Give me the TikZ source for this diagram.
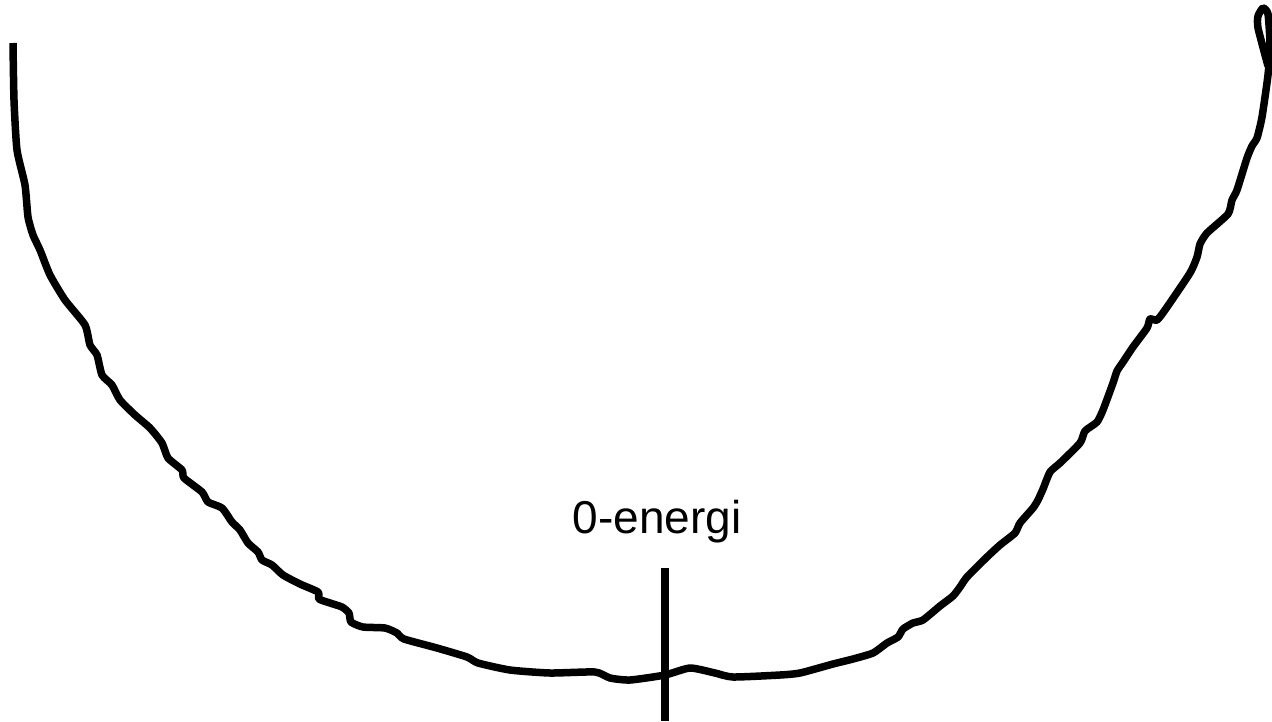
\documentclass[tikz,border=0pt]{standalone}
\usepackage{fontspec}
\setmainfont{Liberation Sans}
\begin{document}
\begin{tikzpicture}[x=1pt,y=-1pt,
  curve/.style={line width=7.5pt, line join=round},
  marker/.style={line width=8pt},
  lbl/.style={font=\fontsize{46}{50}\selectfont, inner sep=0pt, anchor=base}]
\useasboundingbox (0,0) rectangle (1272,721);
\draw[curve] plot[smooth, tension=0.35] coordinates {
 (13,43) (14,100) (17,150) (25,185) (28,217) (33,235) (40,250) (50,275) (65,300) (85,325)
 (90,345) (97,355) (102,375) (112,385) (120,400) (135,415) (150,428) (162,443) (168,458)
 (182,470) (184,478) (202,492) (208,502) (222,508) (232,522) (240,530) (248,543) (258,552)
 (262,560) (272,565) (283,575) (300,584) (318,592) (319,599) (330,603) (342,607) (349,613)
 (351,622) (363,627) (385,628) (397,633) (404,639) (437,648) (467,657) (478,663) (510,670)
 (550,673) (595,672) (610,678) (630,680) (665,675) (690,668) (715,673) (733,677) (780,675)
 (800,673) (833,664) (853,659) (873,653) (887,643) (898,637) (903,629) (913,623) (923,620)
 (940,606) (953,596) (960,587) (967,577) (987,557) (1000,545) (1015,533) (1020,523)
 (1033,508) (1038,500) (1043,489) (1050,472) (1060,463) (1080,443) (1085,431) (1097,422)
 (1103,410) (1113,383) (1117,371) (1123,362) (1133,347) (1147,328) (1150,319) (1157,320)
 (1165,310) (1190,273) (1197,257) (1200,244) (1207,233) (1228,214) (1232,200) (1237,190)
 (1247,158) (1252,146) (1257,138) (1262,117) (1268,75) (1270,45) (1268,14) (1263,8)
 (1258,16) (1258,28) (1268,66)};
\node[lbl] (label) at (657,533) {0-energi};
\coordinate (mtop) at (665,568);
\coordinate (mbot) at (665,721);
\draw[marker] (mtop) -- (mbot);
\end{tikzpicture}
\end{document}
